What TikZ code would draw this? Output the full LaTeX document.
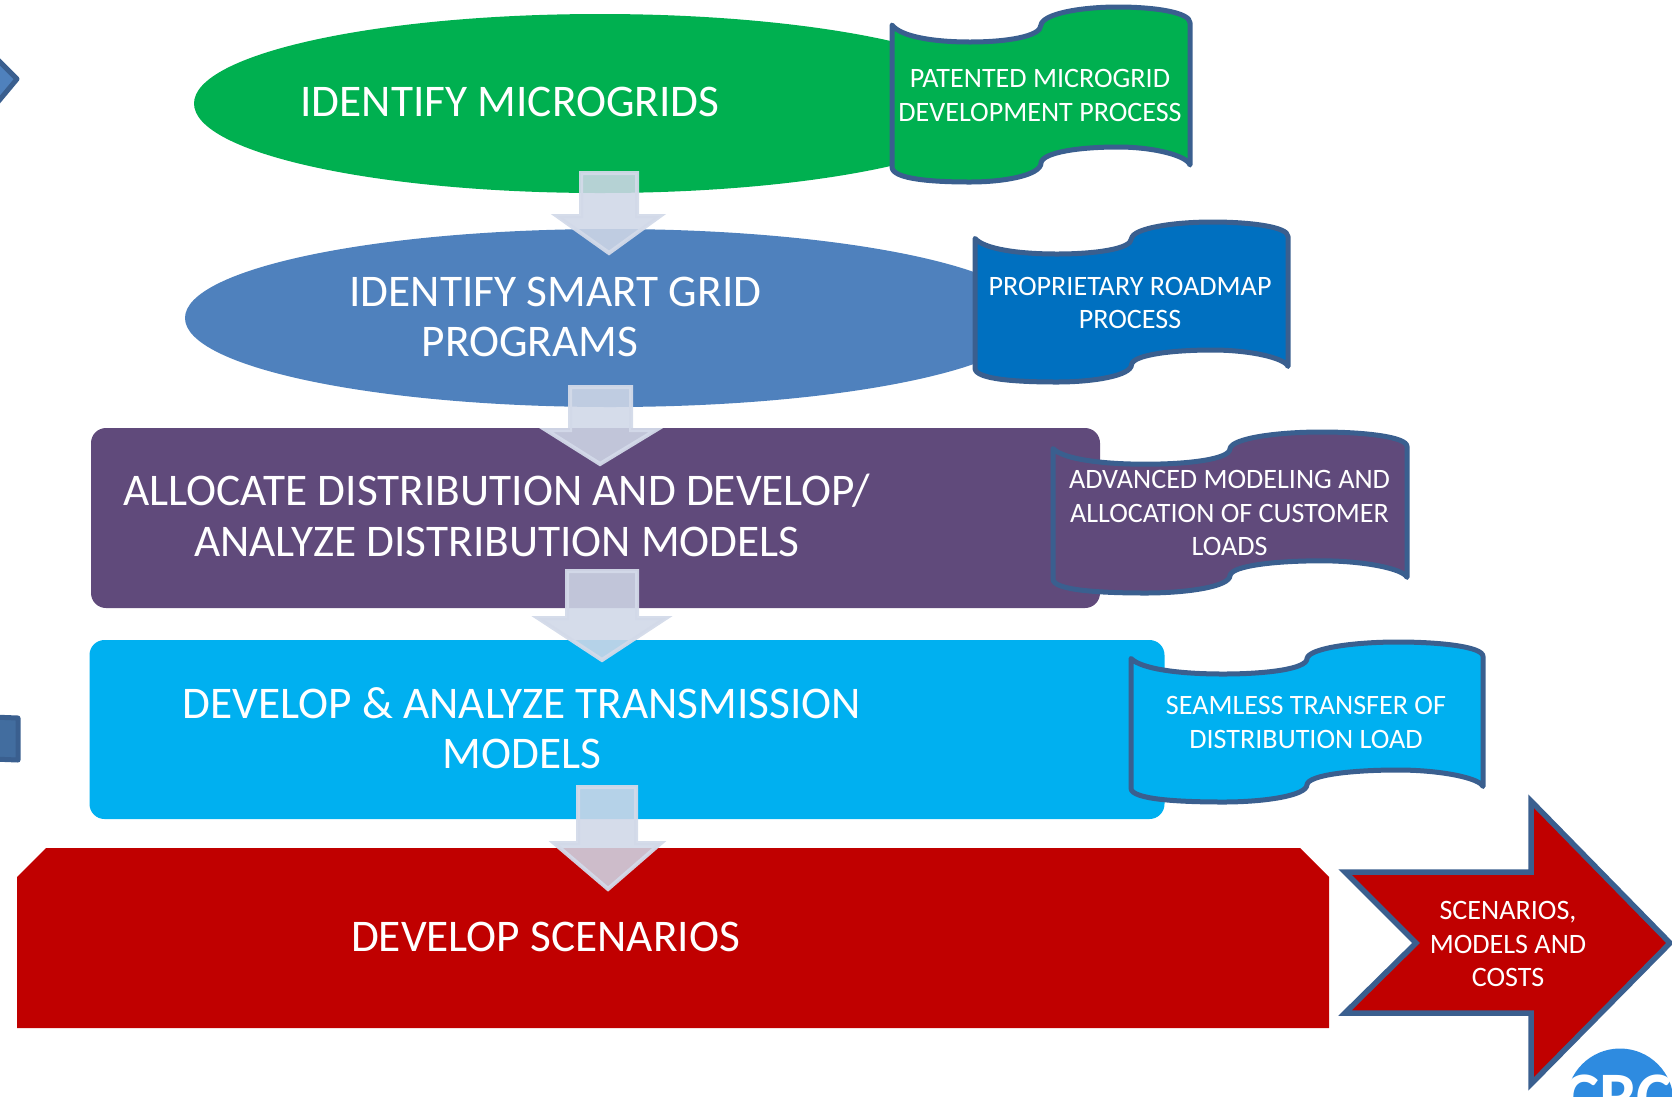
\documentclass[tikz,border=0pt]{standalone}
\usepackage{fontspec}
\setmainfont{Carlito}
\usetikzlibrary{shapes.geometric}
\definecolor{lineblue}{HTML}{3A5F8F}
\definecolor{cgreen}{HTML}{00B050}
\definecolor{cblue}{HTML}{4F81BD}
\definecolor{cdeep}{HTML}{0070C0}
\definecolor{cpurple}{HTML}{604A7B}
\definecolor{csky}{HTML}{00B0F0}
\definecolor{cred}{HTML}{C00000}
\definecolor{arrowfill}{HTML}{CFD7E7}
\definecolor{arrowline}{HTML}{D3DAE9}
\definecolor{logoblue}{HTML}{2E8BE0}
\definecolor{cutblue}{HTML}{426D9F}
\tikzset{
 oval/.style={ellipse,draw=none,inner sep=0pt,outer sep=0pt},
 panel/.style={rectangle,rounded corners=15pt,draw=none,inner sep=0pt,outer sep=0pt},
 bigtext/.style={text=white,align=center,inner sep=0pt,font=\fontsize{45.3}{50.5}\selectfont},
 smalltext/.style={text=white,align=center,inner sep=0pt,font=\fontsize{28.1}{33.8}\selectfont},
 wavefig/.style={draw=lineblue,line width=5pt,line join=round,line cap=round},
 blockarrow/.style={fill=arrowfill,fill opacity=.88,draw=arrowline,line width=4pt,draw opacity=.95,line join=miter},
}
\newcommand\wavefigure[5]{%
 \begin{scope}[shift={(#1,#2)},x=#3pt,y=-#4pt]
 \filldraw[wavefig,fill=#5] (0,.103)
  .. controls (.03,.17) and (.14,.2) .. (.262,.2)
  .. controls (.38,.2) and (.5,.17) .. (.5,.103)
  .. controls (.505,.04) and (.63,0) .. (.758,0)
  .. controls (.88,0) and (1,.03) .. (1,.09)
  -- (1,.903)
  .. controls (.99,.85) and (.88,.8) .. (.758,.8)
  .. controls (.63,.8) and (.505,.83) .. (.5,.891)
  .. controls (.5,.96) and (.38,1) .. (.262,1)
  .. controls (.14,1) and (0,.985) .. (0,.914) -- cycle;
 \end{scope}}
\newcommand\downarrowshape[8]{%
 \draw[blockarrow] (#1,#3) -- (#2,#3) -- (#2,#6) -- (#5,#6) -- (#7,#8) -- (#4,#6) -- (#1,#6) -- cycle;}
\begin{document}
\begin{tikzpicture}[x=1pt,y=-1pt]
\useasboundingbox (0,0) rectangle (1672,1096);
% cut-off shapes at the left edge
\filldraw[draw=lineblue,line width=5pt,line join=round,fill=cblue] (-8,54) -- (17,79) -- (-8,109) -- cycle;
\filldraw[draw=lineblue,line width=5pt,line join=round,fill=cutblue] (-8,717) -- (18,718) -- (18,760) -- (-8,759) -- cycle;
% logo
\begin{scope}
\clip (1500,1030) rectangle (1672,1096);
\fill[logoblue] (1620,1102) circle[radius=53.5];
\node[anchor=base,text=white,inner sep=0pt,font=\bfseries\fontsize{68}{68}\selectfont] (logo) at (1618,1119) {CRC};
\end{scope}
% main shapes
\node[oval,fill=cgreen,minimum width=812pt,minimum height=179pt] (s1) at (600,103.5) {};
\node[oval,fill=cblue,minimum width=850pt,minimum height=178pt] (s2) at (610,318) {};
\node[panel,fill=cpurple,minimum width=1009pt,minimum height=180pt] (s3) at (595.5,518) {};
\node[panel,fill=csky,minimum width=1075pt,minimum height=179pt] (s4) at (627,729.5) {};
\fill[cred] (46,848) -- (1300,848) -- (1329,877) -- (1329,1028) -- (17,1028) -- (17,877) -- cycle;
% wave callouts
\wavefigure{892}{7}{298}{175}{cgreen}
\wavefigure{975}{222}{313}{160}{cdeep}
\wavefigure{1053}{432}{354}{161}{cpurple}
\wavefigure{1131}{642}{352}{160}{csky}
% red arrow
\filldraw[draw=lineblue,line width=5.5pt,miter limit=10,fill=cred] (1345,872) -- (1531,872) -- (1531,801) -- (1670,943) -- (1531,1084) -- (1531,1013) -- (1345,1013) -- (1416,943) -- cycle;
% labels
\node[bigtext] (t1) at (510,102) {IDENTIFY MICROGRIDS};
\node[bigtext] (t2) at (555.5,317) {IDENTIFY SMART GRID\\PROGRAMS\rule{51pt}{0pt}};
\node[bigtext] (t3) at (497,515.5) {ALLOCATE DISTRIBUTION AND DEVELOP/\\ANALYZE DISTRIBUTION MODELS};
\node[bigtext] (t4) at (522,728) {DEVELOP \& ANALYZE TRANSMISSION\\MODELS};
\node[bigtext] (t5) at (545.5,937) {DEVELOP SCENARIOS};
\node[smalltext] (c1) at (1040,95.5) {PATENTED MICROGRID\\DEVELOPMENT PROCESS};
\node[smalltext] (c2) at (1130,303) {PROPRIETARY ROADMAP\\PROCESS};
\node[smalltext] (c3) at (1229.5,513) {ADVANCED MODELING AND\\ALLOCATION OF CUSTOMER\\LOADS};
\node[smalltext] (c4) at (1306,722.5) {SEAMLESS TRANSFER OF\\DISTRIBUTION LOAD};
\node[smalltext] (c5) at (1508,944) {SCENARIOS,\\MODELS AND\\COSTS};
% block arrows
\downarrowshape{581}{637}{173}{557}{660}{216}{609}{253}
\downarrowshape{570}{631}{387}{546}{656}{430}{600}{464}
\downarrowshape{567}{637}{571}{538}{666}{618}{602}{660}
\downarrowshape{578}{636}{787}{554}{661}{843}{608}{889}
\end{tikzpicture}
\end{document}
